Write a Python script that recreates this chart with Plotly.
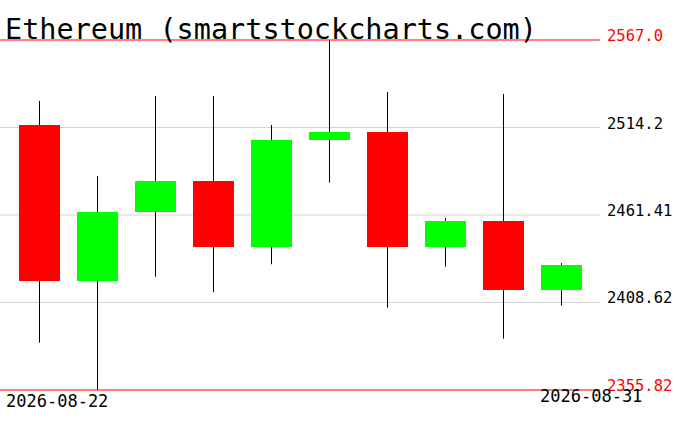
import plotly.graph_objects as go

W, H = 676, 431

dates = ["2026-08-22", "2026-08-23", "2026-08-24", "2026-08-25", "2026-08-26",
         "2026-08-27", "2026-08-28", "2026-08-29", "2026-08-30", "2026-08-31"]
opens = [2515.7, 2421.8, 2463.4, 2481.9, 2442.3, 2506.7, 2511.5, 2442.3, 2457.8, 2416.1]
highs = [2530.2, 2484.9, 2533.2, 2533.2, 2515.7, 2567.0, 2535.6, 2459.6, 2534.4, 2432.4]
lows = [2384.4, 2355.82, 2424.2, 2414.8, 2431.7, 2480.9, 2405.5, 2430.2, 2386.8, 2406.7]
closes = [2421.8, 2463.2, 2481.9, 2442.3, 2506.7, 2511.5, 2442.3, 2457.8, 2416.1, 2431.2]

y_min, y_max = 2355.82, 2567.0
grid_vals = [2514.2, 2461.41, 2408.62]
tick_labels = ["2567.0", "2514.2", "2461.41", "2408.62", "2355.82"]
tick_vals = [2567.0, 2514.2, 2461.41, 2408.62, 2355.82]
title_text = "Ethereum (smartstockcharts.com)"

UP, DOWN = "#00ff00", "#ff0000"
xs = list(range(len(dates)))

# pixel geometry: y_max at row 40, y_min at row 390; pad the axis so edge lines are not clipped
TOP_PX, BOT_PX, PAD_PX = 40, 390, 10
per_px = (y_max - y_min) / (BOT_PX - TOP_PX)
r_lo, r_hi = y_min - PAD_PX * per_px, y_max + PAD_PX * per_px

fig = go.Figure()

# wicks (upper and lower segments, so bodies stay clean)
wx, wy = [], []
for i in xs:
    top = max(opens[i], closes[i])
    bot = min(opens[i], closes[i])
    wx += [i, i, None, i, i, None]
    wy += [highs[i], top, None, bot, lows[i], None]
fig.add_trace(go.Scatter(x=wx, y=wy, mode="lines", line=dict(color="black", width=1),
                         hoverinfo="skip", showlegend=False))

# bodies
fig.add_trace(go.Bar(
    x=xs,
    y=[abs(closes[i] - opens[i]) for i in xs],
    base=[min(opens[i], closes[i]) for i in xs],
    width=0.69,
    marker=dict(color=[UP if closes[i] >= opens[i] else DOWN for i in xs], line=dict(width=0)),
    showlegend=False, hoverinfo="skip"))

# horizontal lines
for v in grid_vals:
    fig.add_shape(type="line", xref="x domain", yref="y", x0=0, x1=1, y0=v, y1=v,
                  line=dict(color="#d3d3d3", width=1), layer="below")
for v in (y_min, y_max):
    fig.add_shape(type="line", xref="x domain", yref="y", x0=0, x1=1, y0=v, y1=v,
                  line=dict(color="#ff0000", width=1), layer="above")

# right-hand labels
for v, t in zip(tick_vals, tick_labels):
    red = v in (y_min, y_max)
    fig.add_annotation(x=605 / W, xref="paper", y=v, yref="y", text=t, showarrow=False,
                       xanchor="left", yanchor="middle", yshift=4,
                       font=dict(family="DejaVu Sans Mono", size=15.5,
                                 color="#ff0000" if red else "black"))

# date labels
fig.add_annotation(x=4 / W, xref="paper", y=1 - 401 / H, yref="paper", text=dates[0],
                   showarrow=False, xanchor="left", yanchor="middle",
                   font=dict(family="DejaVu Sans Mono", size=17, color="black"))
fig.add_annotation(x=644 / W, xref="paper", y=1 - 396 / H, yref="paper", text=dates[-1],
                   showarrow=False, xanchor="right", yanchor="middle",
                   font=dict(family="DejaVu Sans Mono", size=17, color="black"))

# title
fig.add_annotation(x=3 / W, xref="paper", y=1 - 29 / H, yref="paper", text=title_text,
                   showarrow=False, xanchor="left", yanchor="middle",
                   font=dict(family="DejaVu Sans Mono", size=28.5, color="black"))

fig.update_layout(
    width=W, height=H,
    margin=dict(l=0, r=0, t=0, b=0),
    paper_bgcolor="white", plot_bgcolor="white",
    bargap=0,
    xaxis=dict(domain=[0, 600 / W], range=[-0.681, 9.664], showgrid=False,
               showticklabels=False, zeroline=False, showline=False, ticks="", fixedrange=True),
    yaxis=dict(domain=[(H - BOT_PX - PAD_PX) / H, (H - TOP_PX + PAD_PX) / H], range=[r_lo, r_hi],
               showgrid=False, showticklabels=False, zeroline=False, showline=False, ticks="",
               fixedrange=True),
)

fig.write_html("out.html", config={"displayModeBar": False, "staticPlot": True},
               post_script="document.body.style.margin='0px';document.body.style.overflow='hidden';")
